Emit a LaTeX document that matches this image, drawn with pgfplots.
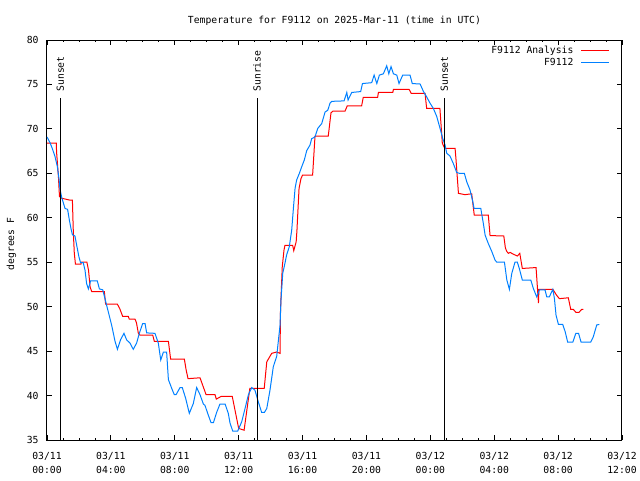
\documentclass[border=0pt]{standalone}
\usepackage{fontspec}
\setmainfont{DejaVu Sans Mono}
\usepackage{pgfplots}
\pgfplotsset{compat=1.18}
\definecolor{obsblue}{RGB}{0,128,255}
\newcommand{\gf}{\fontsize{7.3}{10.5}\selectfont}
\begin{document}
\begin{tikzpicture}[x=1pt,y=1pt]
\path[use as bounding box] (-35.25,-30) rectangle (444.75,330);
\begin{axis}[
 scale only axis, width=431.25pt, height=300pt,
 xmin=0, xmax=36, ymin=35, ymax=80,
 xtick={0,4,...,36}, minor x tick num=3,
 ytick={35,40,...,80},
 xticklabels={03/11\\00:00,03/11\\04:00,03/11\\08:00,03/11\\12:00,03/11\\16:00,03/11\\20:00,03/12\\00:00,03/12\\04:00,03/12\\08:00,03/12\\12:00},
 /pgf/number format/assume math mode=true,
 every tick label/.append style={font=\gf},
 xticklabel style={align=center, yshift=-5.5pt},
 yticklabel style={xshift=-2.8pt},
 tick align=inside, major tick length=3.4pt, minor tick length=1.7pt,
 every tick/.style={black, line width=0.6pt},
 axis line style={line width=0.75pt},
 title={Temperature for F9112 on 2025-Mar-11 (time in UTC)},
 title style={font=\gf, at={(axis description cs:0.5,1)}, anchor=center, yshift=8.5pt},
 ylabel={degrees F},
 ylabel style={font=\gf, at={(axis description cs:-0.0617,0.49)}, anchor=center},
 legend plot pos=right,
 legend cell align=right,
 legend image code/.code={\draw[#1] (0pt,0pt) -- (21pt,0pt);},
 legend style={draw=none, fill=none, at={(axis description cs:1,1)}, anchor=north east,
   xshift=-9pt, yshift=-3.75pt, font=\gf, row sep=1pt, column sep=5pt, inner sep=0pt,
   nodes={inner sep=0.5pt, text height=5.5pt, text depth=1.5pt}},
]
\addplot[red, line width=0.75pt] coordinates {
(0,68.4) (0.58,68.4) (0.6,67.4) (0.72,64.5) (0.78,62.4) (0.92,62.2) (1.4,62.0) (1.59,62.0)
(1.65,58.3) (1.71,56.0) (1.78,54.8) (2.13,54.8) (2.15,55.0) (2.5,55.0) (2.6,54.1) (2.7,52.2)
(2.8,51.7) (3.59,51.7) (3.67,50.3) (4.4,50.3) (4.55,49.8) (4.74,48.9) (5.09,48.9) (5.15,48.6)
(5.51,48.6) (5.6,48.2) (5.72,47.0) (5.82,46.8) (6.62,46.8) (6.72,46.1) (7.6,46.1) (7.74,44.1)
(8.6,44.1) (8.71,42.9) (8.83,41.9) (9.58,42.0) (9.96,40.1) (10.52,40.1) (10.6,39.6) (10.9,39.9)
(11.6,39.9) (12.0,36.3) (12.34,36.1) (12.7,40.8) (13.6,40.8) (13.76,43.8) (14.07,44.75) (14.38,44.9)
(14.59,44.75) (14.62,49.6) (14.73,54.5) (14.84,56.4) (14.9,56.9) (15.38,56.9) (15.45,56.3) (15.6,57.3)
(15.65,58.6) (15.78,63.3) (15.9,64.4) (16.0,64.8) (16.63,64.8) (16.78,69.2) (17.61,69.2) (17.78,71.8)
(17.9,72.0) (18.66,72.0) (18.8,72.6) (19.7,72.6) (19.8,73.55) (20.7,73.55) (20.75,74.1) (21.65,74.1)
(21.69,74.45) (22.67,74.45) (22.8,74.0) (23.67,74.0) (23.77,72.3) (24.6,72.3) (24.75,68.4) (24.85,68.0)
(24.92,67.8) (25.55,67.8) (25.61,66.5) (25.76,62.75) (26.17,62.6) (26.59,62.7) (26.75,60.3) (27.63,60.3)
(27.74,58.0) (28.6,57.95) (28.7,56.6) (28.79,56.2) (28.89,56.0) (29.0,56.1) (29.2,55.9) (29.45,55.7)
(29.6,56.0) (29.76,54.3) (30.62,54.4) (30.77,50.4) (30.8,51.95) (31.67,51.95) (31.9,51.3) (32.08,50.9)
(32.64,51.0) (32.79,49.7) (32.95,49.7) (33.12,49.35) (33.3,49.35) (33.48,49.7) (33.58,49.7)
};
\addlegendentry{F9112 Analysis}
\addplot[obsblue, line width=0.75pt] coordinates {
(0,69.1) (0.19,68.45) (0.33,67.8) (0.5,66.9) (0.65,65.75) (0.75,64.4) (0.81,63.3) (0.92,62.3)
(1.02,61.7) (1.13,61.05) (1.29,60.95) (1.4,59.75) (1.5,58.8) (1.59,58.1) (1.75,57.95) (1.86,56.9)
(2.0,55.6) (2.1,54.95) (2.27,54.95) (2.38,54.1) (2.48,52.6) (2.59,52.0) (2.73,52.9) (3.15,52.9)
(3.28,52.0) (3.49,51.9) (3.63,50.9) (3.84,49.4) (4.05,47.9) (4.26,46.1) (4.41,45.2) (4.61,46.3)
(4.82,47.0) (4.99,46.25) (5.2,45.9) (5.4,45.2) (5.61,45.9) (5.78,47.0) (5.99,48.1) (6.14,48.1)
(6.24,47.05) (6.76,47.0) (6.97,45.9) (7.12,44.0) (7.29,44.9) (7.49,44.9) (7.6,41.8) (7.81,40.8)
(7.97,40.1) (8.08,40.1) (8.33,40.9) (8.47,40.9) (8.68,39.7) (8.91,38.0) (9.16,39.1) (9.37,40.9)
(9.58,40.1) (9.79,39.05) (9.89,38.9) (10.1,37.8) (10.27,36.95) (10.42,36.95) (10.62,38.1) (10.83,39.05)
(11.15,39.05) (11.35,38.0) (11.46,36.9) (11.63,36.0) (11.94,36.0) (12.19,37.05) (12.4,38.55) (12.61,40.1)
(12.82,40.9) (13.02,40.6) (13.23,39.3) (13.44,38.1) (13.61,38.1) (13.76,38.55) (13.96,40.6) (14.17,43.25)
(14.38,44.4) (14.59,47.9) (14.65,50.75) (14.76,53.75) (14.9,54.9) (15.0,55.8) (15.17,56.75) (15.32,58.6)
(15.42,60.9) (15.53,63.3) (15.63,64.25) (15.8,65.0) (15.95,65.75) (16.11,66.5) (16.26,67.55) (16.47,68.2)
(16.57,68.9) (16.78,69.1) (16.95,70.05) (17.2,70.6) (17.41,71.9) (17.58,72.1) (17.72,72.9) (17.83,73.1)
(18.6,73.15) (18.77,74.1) (18.85,73.25) (19.08,74.1) (19.64,74.2) (19.75,75.1) (20.33,75.2) (20.48,76.05)
(20.65,75.1) (20.81,76.05) (21.06,76.2) (21.27,77.1) (21.4,76.2) (21.54,77.0) (21.69,76.2) (21.9,76.05)
(22.04,75.1) (22.27,76.05) (22.73,76.05) (22.87,75.1) (23.36,75.05) (23.57,74.2) (23.77,73.6) (23.98,72.9)
(24.19,72.3) (24.4,71.4) (24.61,70.05) (24.78,68.9) (24.92,68.2) (25.03,67.25) (25.23,66.95) (25.44,66.1)
(25.65,65.1) (25.82,65.0) (26.13,65.0) (26.28,64.05) (26.49,63.1) (26.66,61.8) (26.74,61.05) (27.16,61.05)
(27.32,59.35) (27.43,58.05) (27.63,57.1) (27.85,56.2) (28.05,55.25) (28.16,55.0) (28.64,55.0) (28.79,53.0)
(28.95,51.95) (29.1,53.75) (29.3,55.0) (29.45,55.0) (29.57,54.3) (29.76,53.0) (30.29,53.0) (30.45,52.05)
(30.66,51.1) (30.83,51.9) (31.18,51.9) (31.29,51.1) (31.45,51.1) (31.67,51.95) (31.77,50.9) (31.87,49.05)
(32.02,48.0) (32.29,48.0) (32.44,47.2) (32.6,46.0) (32.92,46.0) (33.11,47.0) (33.28,47.0) (33.44,46.0)
(34.04,46.0) (34.2,46.6) (34.42,47.95) (34.58,48.0)
};
\addlegendentry{F9112}
\addplot[black, line width=0.75pt, forget plot] coordinates {(0.83,35) (0.83,73.5)};
\addplot[black, line width=0.75pt, forget plot] coordinates {(13.15,35) (13.15,73.5)};
\addplot[black, line width=0.75pt, forget plot] coordinates {(24.88,35) (24.88,73.5)};
\node[rotate=90, anchor=west, font=\gf, inner sep=4.5pt] at (axis cs:0.83,73.5) {Sunset};
\node[rotate=90, anchor=west, font=\gf, inner sep=4.5pt] at (axis cs:13.15,73.5) {Sunrise};
\node[rotate=90, anchor=west, font=\gf, inner sep=4.5pt] at (axis cs:24.88,73.5) {Sunset};
\end{axis}
\end{tikzpicture}
\end{document}
